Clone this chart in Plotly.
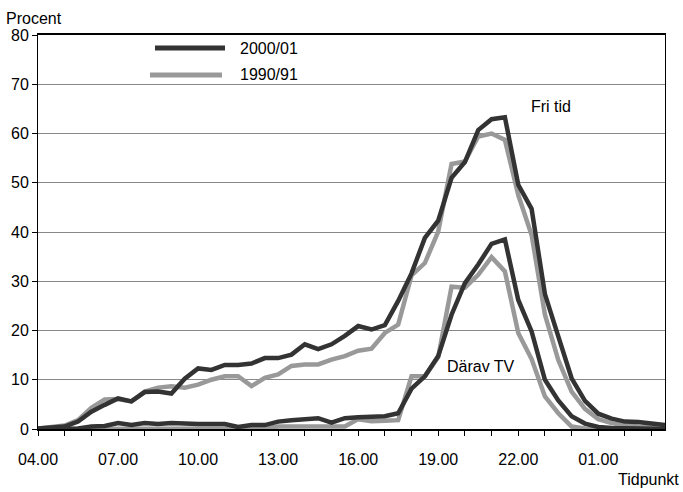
import plotly.graph_objects as go

# Half-hour time points from 04.00 to 03.30
times = ["04.00", "04.30", "05.00", "05.30", "06.00", "06.30", "07.00", "07.30",
         "08.00", "08.30", "09.00", "09.30", "10.00", "10.30", "11.00", "11.30",
         "12.00", "12.30", "13.00", "13.30", "14.00", "14.30", "15.00", "15.30",
         "16.00", "16.30", "17.00", "17.30", "18.00", "18.30", "19.00", "19.30",
         "20.00", "20.30", "21.00", "21.30", "22.00", "22.30", "23.00", "23.30",
         "00.00", "00.30", "01.00", "01.30", "02.00", "02.30", "03.00", "03.30"]

# Fri tid (leisure), per cent
fritid_2000 = [0.1, 0.2, 0.5, 1.5, 3.5, 4.9, 6.2, 5.6, 7.5, 7.6, 7.2, 10.2,
               12.3, 12.0, 13.0, 13.0, 13.3, 14.4, 14.4, 15.1, 17.2, 16.2, 17.2, 18.9,
               20.9, 20.2, 21.1, 26.0, 31.6, 38.8, 42.3, 51.0, 54.2, 60.7, 62.9, 63.3,
               49.6, 44.7, 27.4, 18.8, 10.3, 5.7, 3.1, 2.1, 1.5, 1.4, 1.1, 0.8]
fritid_1990 = [0.1, 0.3, 0.7, 1.8, 4.3, 6.0, 6.1, 5.6, 7.6, 8.4, 8.7, 8.4,
               9.0, 10.0, 10.7, 10.7, 8.7, 10.4, 11.1, 12.8, 13.1, 13.1, 14.1, 14.8,
               15.9, 16.3, 19.5, 21.2, 31.2, 33.7, 40.1, 53.8, 54.3, 59.4, 60.0, 58.7,
               47.5, 39.4, 23.2, 14.0, 7.6, 4.1, 2.0, 1.2, 0.7, 0.5, 0.4, 0.3]
# Därav TV (of which TV), per cent
tv_2000 = [0.0, 0.0, 0.0, 0.1, 0.5, 0.6, 1.2, 0.8, 1.2, 1.0, 1.2, 1.0,
           1.0, 1.0, 1.0, 0.4, 0.8, 0.8, 1.5, 1.8, 2.0, 2.2, 1.3, 2.2,
           2.4, 2.5, 2.6, 3.2, 8.2, 10.7, 14.8, 23.2, 29.6, 33.4, 37.6, 38.5,
           26.2, 19.8, 10.0, 5.8, 2.6, 1.1, 0.4, 0.2, 0.1, 0.0, 0.0, 0.0]
tv_1990 = [0.0, 0.0, 0.0, 0.0, 0.0, 0.0, 0.0, 0.0, 0.0, 0.0, 0.1, 0.1,
           0.1, 0.1, 0.1, 0.1, 0.1, 0.1, 0.5, 0.5, 0.5, 0.5, 0.5, 0.5,
           2.0, 1.6, 1.7, 1.8, 10.7, 10.7, 14.6, 28.9, 28.7, 31.3, 34.9, 32.0,
           19.5, 14.2, 6.6, 3.2, 0.5, 0.1, 0.0, 0.0, 0.0, 0.0, 0.0, 0.0]

series_names = ["2000/01", "1990/91"]
y_ticks = [0, 10, 20, 30, 40, 50, 60, 70, 80]

DARK = "#333333"
GRAY = "#999999"
FONT = "Liberation Sans, Arial, sans-serif"

fig = go.Figure()
for ys, col in [(fritid_1990, GRAY), (tv_1990, GRAY), (fritid_2000, DARK), (tv_2000, DARK)]:
    fig.add_trace(go.Scatter(x=times, y=ys, mode="lines",
                             line=dict(color=col, width=4.5), showlegend=False,
                             hoverinfo="skip"))

tick_vals = times[::2]
tick_text = [t if i % 3 == 0 else "" for i, t in enumerate(tick_vals)]

fig.update_layout(
    width=683, height=492,
    margin=dict(l=38, r=18, t=35, b=63),
    paper_bgcolor="white", plot_bgcolor="white",
    font=dict(family=FONT, size=16, color="black"),
    showlegend=False,
    xaxis=dict(type="category", range=[0, len(times) - 1],
               tickmode="array", tickvals=tick_vals, ticktext=tick_text,
               ticks="outside", ticklen=5, tickcolor="black", tickwidth=1,
               showline=True, linecolor="black", linewidth=2, mirror=True,
               showgrid=False, zeroline=False, ticklabelstandoff=10,
               tickfont=dict(size=16)),
    yaxis=dict(range=[0, 80], tickvals=y_ticks,
               ticks="outside", ticklen=5, tickcolor="black", tickwidth=1,
               showline=True, linecolor="black", linewidth=1, mirror=True,
               showgrid=True, gridcolor="#888888", gridwidth=1,
               zeroline=False, tickfont=dict(size=16)),
)

# Legend drawn as short lines with labels
def px_x(px):
    return (px - 38) / 627.0

def px_y(py):
    return (429 - py) / 394.0

legend_rows = [(series_names[0], DARK, 155, 225, 48), (series_names[1], GRAY, 150, 222, 75)]
for name, col, x0, x1, yy in legend_rows:
    fig.add_shape(type="line", xref="paper", yref="paper",
                  x0=px_x(x0), x1=px_x(x1), y0=px_y(yy), y1=px_y(yy),
                  line=dict(color=col, width=5))
    fig.add_annotation(text=name, xref="paper", yref="paper",
                       x=px_x(238), y=px_y(yy), xanchor="left", yanchor="middle",
                       showarrow=False, font=dict(size=16))

fig.add_annotation(text="Fri tid", xref="paper", yref="paper",
                   x=px_x(551), y=px_y(106), xanchor="center", yanchor="middle",
                   showarrow=False, font=dict(size=16))
fig.add_annotation(text="Därav TV", xref="paper", yref="paper",
                   x=px_x(481), y=px_y(366), xanchor="center", yanchor="middle",
                   showarrow=False, font=dict(size=16))
fig.add_annotation(text="Procent", xref="paper", yref="paper",
                   x=px_x(4), y=px_y(18), xanchor="left", yanchor="middle",
                   showarrow=False, font=dict(size=16))
fig.add_annotation(text="Tidpunkt", xref="paper", yref="paper",
                   x=px_x(681), y=px_y(479), xanchor="right", yanchor="middle",
                   showarrow=False, font=dict(size=16))

fig.write_html("out.html", config={"displayModeBar": False, "staticPlot": True},
               post_script="document.body.style.margin='0';document.body.style.overflow='hidden';")
